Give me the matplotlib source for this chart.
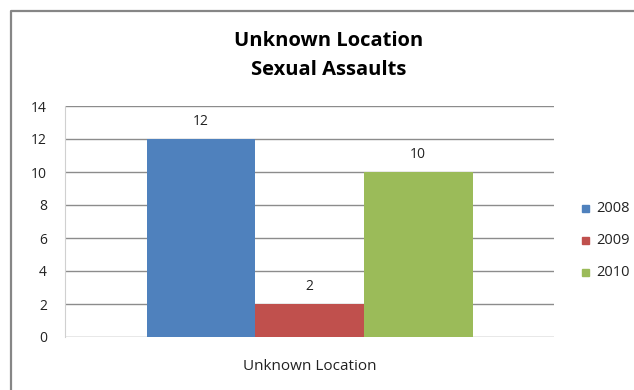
import matplotlib
matplotlib.use('Agg')
import matplotlib.pyplot as plt
from matplotlib.patches import Rectangle

matplotlib.rcParams['font.family'] = ['Open Sans', 'DejaVu Sans']

category = 'Unknown Location'
years = ['2008', '2009', '2010']
counts = [12, 2, 10]
colors = ['#4f81bd', '#c0504d', '#9bbb59']
yticks = [0, 2, 4, 6, 8, 10, 12, 14]

W, H = 634, 390
fig = plt.figure(figsize=(W / 100, H / 100), dpi=100)

# 픽셀 좌표용 배경 축 (테두리, 제목, 범례)
bg = fig.add_axes([0, 0, 1, 1])
bg.set_xlim(0, W)
bg.set_ylim(H, 0)
bg.axis('off')
bg.plot([10.5, 10.5, W + 20], [H + 20, 10.5, 10.5], color='#868686',
        linewidth=1.6, clip_on=True)

ax = fig.add_axes([65 / W, 1 - 337 / H, 489 / W, 231 / H])

# 막대 폭: 한 범주 안에 3개, 양쪽 간격 150%
bar_w = 1 / (3 + 1.5)
xs = [-bar_w, 0, bar_w]
ax.bar(xs, counts, width=bar_w, color=colors, label=years, zorder=3)

for x, v in zip(xs, counts):
    ax.text(x, v + 0.6, str(v), ha='center', va='bottom', fontsize=10, color='#222222')

ax.set_xlim(-0.5, 0.5)
ax.set_ylim(0, 14)
ax.set_yticks(yticks)
ax.set_yticklabels([str(t) for t in yticks], fontsize=10, color='#222222')
ax.set_xticks([])
ax.tick_params(axis='y', length=0, pad=13)

for t in yticks:
    ax.axhline(t, color='#8c8c8c', linewidth=1.0, zorder=1)

for s in ['top', 'right', 'bottom']:
    ax.spines[s].set_visible(False)
ax.spines['left'].set_color('#d0d0d0')

ax.set_xlabel(category, fontsize=11, color='#222222', labelpad=16)

bg.text(329, 41, 'Unknown Location', ha='center', va='center',
        fontsize=14.5, fontweight='bold')
bg.text(329, 70, 'Sexual Assaults', ha='center', va='center',
        fontsize=14.5, fontweight='bold')

# 범례
for i, (yr, c) in enumerate(zip(years, colors)):
    yy = 208 + 32 * i
    bg.add_patch(Rectangle((582, yy - 3.5), 7, 7, color=c))
    bg.text(596, yy, yr, ha='left', va='center', fontsize=10.5, color='#222222')

fig.savefig('out.png', dpi=100)
